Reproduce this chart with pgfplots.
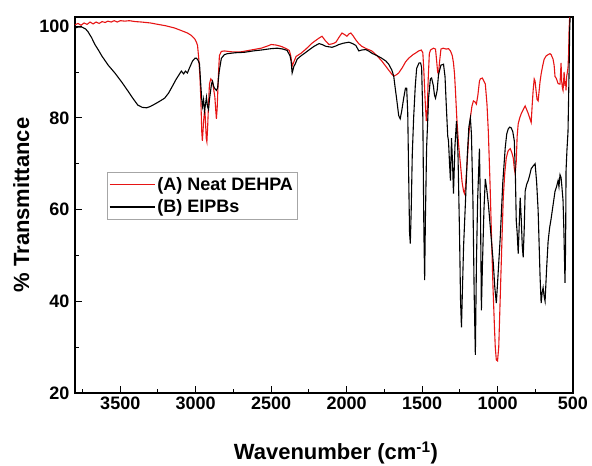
\documentclass[border=0pt]{standalone}
\usepackage{pgfplots}
\pgfplotsset{compat=1.18}
\usepackage{fontspec}
\setmainfont{Liberation Sans}
\definecolor{specred}{RGB}{230,20,20}
\begin{document}
\begin{tikzpicture}
\begin{axis}[
  at={(0,0)}, anchor=south west,
  scale only axis, width=498pt, height=376pt,
  x dir=reverse,
  xmin=500, xmax=3800, ymin=20, ymax=102,
  xtick={500,1000,1500,2000,2500,3000,3500},
  minor xtick={750,1250,1750,2250,2750,3250,3750},
  ytick={20,40,60,80,100},
  minor ytick={30,50,70,90},
  tick pos=left, tick align=inside,
  major tick length=7pt, minor tick length=4pt,
  every tick/.style={black, line width=1pt},
  axis line style={line width=1.4pt},
  /pgf/number format/assume math mode=true,
  /pgf/number format/set thousands separator={},
  ticklabel style={font=\fontsize{18}{18}\selectfont\bfseries},
  yticklabel style={xshift=-2pt},
  every axis y label/.style={at={(axis description cs:-0.108,0.5)}, rotate=90, anchor=center, font=\fontsize{22}{22}\selectfont\bfseries},
  every axis x label/.style={at={(axis description cs:0.524,-0.178)}, anchor=base, font=\fontsize{22}{22}\selectfont\bfseries},
  ylabel={\% Transmittance},
  xlabel={Wavenumber (cm\textsuperscript{-1})},
  legend style={at={(axis description cs:0.064,0.588)}, anchor=north west, draw=gray!70, line width=0.5pt, font=\fontsize{18}{18}\selectfont\bfseries, inner xsep=2pt, inner ysep=3pt, row sep=4pt, fill=white},
  legend cell align=left,
  legend image code/.code={\draw[#1, line width=1.2pt] (0pt,0pt) -- (45pt,0pt);},
]
\addplot[specred, line width=1.1pt] coordinates {
(3800,100.3)(3780,100.6)(3760,100.2)(3740,100.7)(3720,100.4)(3700,100.9)(3680,100.5)(3660,100.9)(3640,100.6)(3620,101)(3600,100.8)(3582,101.1)(3560,100.9)(3540,101.2)(3520,100.9)(3500,101.2)(3470,101.1)(3440,101.2)(3400,101)(3358,100.9)(3300,100.7)(3252,100.4)(3200,100.1)(3140,99.6)(3100,99.1)(3054,98.5)(3030,98)(3008,97.3)(2995,96.5)(2988,95.8)(2980,93)(2972,89)(2966,84)(2960,77)(2956,75)(2952,77)(2946,80)(2940,82)(2935,79)(2930,75.5)(2926,74.8)(2921,78)(2915,83)(2909,87.4)(2900,88.5)(2889,88)(2880,86)(2873,84.5)(2868,82)(2863,79.8)(2858,82)(2850,89)(2843,93.6)(2830,94.5)(2810,94.6)(2760,94.4)(2700,94.4)(2650,94.7)(2600,95)(2566,95.2)(2530,95.6)(2500,96)(2470,95.9)(2434,95.6)(2400,95.1)(2380,94.7)(2370,93.5)(2361,91.3)(2355,91.8)(2350,92.2)(2335,93.4)(2302,94.1)(2270,95)(2229,96.3)(2200,97)(2183,97.4)(2163,97.8)(2140,96.8)(2117,96)(2090,96.2)(2071,96.5)(2050,97.6)(2031,98.5)(2015,98.2)(1998,97.8)(1985,98.3)(1972,98.5)(1955,97.8)(1939,97)(1920,96.2)(1899,95.6)(1870,95.1)(1833,94.6)(1800,93.6)(1767,92.4)(1730,90.8)(1700,89.5)(1688,89.1)(1670,89.4)(1655,89.8)(1630,91)(1610,92.2)(1589,93)(1560,93.8)(1540,94.2)(1523,94.6)(1505,94.8)(1495,94.2)(1488,90)(1480,84)(1472,79.3)(1466,81)(1460,88)(1452,94)(1444,94.8)(1425,95.2)(1411,95)(1404,92.6)(1397,90)(1391,89.6)(1385,92)(1375,95)(1360,95.2)(1340,95)(1325,95.1)(1312,94.6)(1300,93.6)(1292,92)(1285,89.6)(1279,86)(1270,80)(1260,75)(1252,72)(1246,70)(1235,66)(1225,64)(1219,63.5)(1212,65)(1200,71)(1190,76.5)(1180,80)(1170,82.5)(1160,83.7)(1150,83.5)(1140,83)(1130,85)(1120,88)(1114,88.5)(1101,88.7)(1090,88)(1081,87.4)(1070,83)(1061,77)(1050,66)(1041,55.4)(1030,43)(1020,34)(1015,30)(1008,27.2)(1000,27)(992,30)(982,41)(972,52)(962,62.6)(952,68)(942,71.3)(930,72.8)(916,73.3)(906,72.5)(896,71.3)(889,69)(883,67.8)(876,70.5)(870,76)(863,78.7)(853,80)(843,80.9)(830,81.8)(817,82.6)(807,81.8)(797,81)(787,80)(777,79)(770,83)(764,86)(757,88.5)(751,88)(745,86)(738,84)(731,83.7)(724,86)(718,88)(711,89.6)(700,91.5)(691,92.8)(678,93.5)(665,93.8)(652,94)(645,93.8)(632,92.8)(625,91.5)(619,89)(612,88.7)(606,88.2)(599,87.5)(593,87.4)(586,87.4)(582,90)(579,92)(575,88)(570,86.5)(566,86)(562,88)(559,90)(555,88)(553,87)(549,88)(546,86)(542,89)(537,90)(533,91)(529,94)(526,99)(522,102)
};
\addlegendentry{(A) Neat DEHPA}
\addplot[black, line width=1.1pt] coordinates {
(3800,99.6)(3780,99.8)(3754,99.8)(3730,99.4)(3714,98.8)(3690,97.5)(3668,96)(3645,94.8)(3622,93.5)(3580,91.5)(3536,89.8)(3490,87.8)(3450,85.9)(3415,84.2)(3384,82.8)(3355,82.3)(3325,82.2)(3300,82.5)(3272,83)(3240,83.6)(3206,84.3)(3180,85.4)(3153,87)(3130,88.4)(3107,89.6)(3095,90.2)(3080,89.6)(3068,90.2)(3055,89.8)(3040,91)(3021,92.4)(3005,93)(2995,93)(2985,92.6)(2975,91.8)(2968,88)(2960,84)(2955,82.5)(2948,84)(2942,81.5)(2935,83)(2929,84.5)(2922,82.5)(2915,81.8)(2909,84)(2895,87.5)(2889,88)(2882,87)(2876,86.5)(2863,86)(2855,86.5)(2845,90)(2830,93)(2810,93.8)(2790,94)(2740,94.2)(2678,94.3)(2620,94.6)(2566,94.8)(2500,95.1)(2460,95.2)(2420,95)(2394,94.7)(2375,93.5)(2368,92.4)(2361,89.8)(2355,90.5)(2350,91.2)(2340,91.8)(2328,92.8)(2300,93.6)(2282,94)(2250,94.8)(2216,95.6)(2183,96.2)(2163,96)(2137,95.6)(2097,95.4)(2070,95.7)(2051,96)(2020,96.3)(1985,96.5)(1960,96.2)(1939,95.8)(1919,94.6)(1900,94.8)(1873,94.9)(1850,94.5)(1833,94.1)(1800,93.6)(1767,93)(1740,92.4)(1721,91.7)(1700,90.4)(1688,89.1)(1678,86.5)(1668,84)(1655,80.5)(1645,79.8)(1635,81.5)(1622,84.3)(1610,86.5)(1602,86.5)(1595,81)(1590,70)(1583,55)(1578,52.6)(1572,60)(1565,72)(1556,80)(1545,87)(1536,90.8)(1520,92)(1510,92)(1503,91)(1495,80)(1488,55)(1483,44.6)(1478,58)(1470,73.5)(1462,80)(1457,84.3)(1445,88.5)(1437,88.7)(1425,87)(1418,85)(1411,84.3)(1400,86)(1391,89.5)(1375,91.5)(1358,91.7)(1348,89)(1340,83)(1330,76)(1325,75)(1318,70)(1312,66.3)(1305,75.6)(1298,70)(1292,63.5)(1282,74)(1272,79.3)(1262,72)(1252,55)(1245,40)(1239,34.3)(1233,42)(1225,52)(1213,61.3)(1200,72)(1190,78)(1180,80)(1173,76.5)(1163,62)(1155,42)(1147,28.3)(1140,48)(1132,62)(1120,73.3)(1113,60)(1107,38)(1100,48)(1090,60)(1081,66.7)(1070,64)(1061,61.3)(1045,55)(1028,48.3)(1018,43)(1008,39.6)(998,45)(982,54)(965,66)(949,73.5)(939,76.5)(929,77.6)(919,78)(909,77.8)(899,77)(889,75)(882,68)(876,57.6)(870,55)(863,50.4)(857,56)(850,62.6)(843,58)(836,52)(830,49.6)(823,56)(817,64)(807,65.5)(797,66.3)(787,67.5)(777,68.9)(764,69.5)(751,70)(741,66)(731,59.8)(724,52)(718,45.2)(711,39.6)(704,42)(698,43)(691,41)(685,40)(675,47)(665,53)(655,56)(645,58)(632,61)(619,64)(609,65)(599,66.3)(593,65)(586,67.6)(579,67)(573,64.8)(566,62)(560,55)(553,44)(549,52)(546,68.5)(540,73)(533,77)(526,90)(522,99)(519,102)
};
\addlegendentry{(B) EIPBs}
\end{axis}
\pgfresetboundingbox
\path[use as bounding box] (-75pt,-73pt) rectangle (517pt,393pt);
\end{tikzpicture}
\end{document}
